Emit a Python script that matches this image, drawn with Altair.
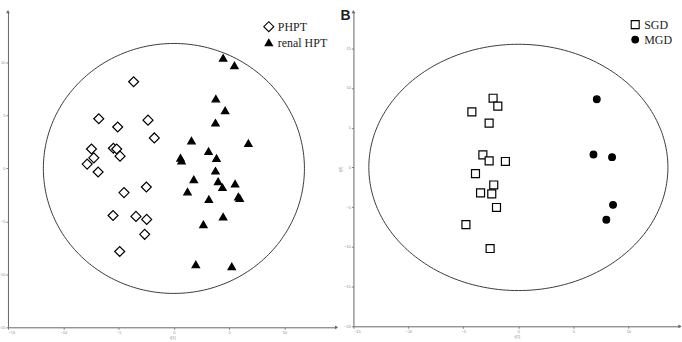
import altair as alt
import numpy as np
import pandas as pd

# ---- Panel A: PHPT vs renal HPT score plot ----
phpt_x = [-3.64, -6.79, -2.34, -5.08, -1.77, -7.45, -5.47, -5.17, -7.24, -4.87,
          -7.84, -6.85, -2.49, -4.51, -5.50, -3.43, -2.46, -2.64, -4.90]
phpt_y = [8.19, 4.69, 4.56, 3.91, 2.88, 1.84, 1.91, 1.84, 1.00, 1.16,
          0.41, -0.34, -1.75, -2.28, -4.44, -4.53, -4.81, -6.22, -7.84]
renal_x = [4.45, 5.47, 3.79, 4.63, 3.76, 1.59, 6.73, 3.13, 0.60, 0.69, 3.85, 3.76,
           1.80, 4.00, 5.53, 4.39, 1.23, 5.83, 5.95, 3.16, 4.45, 2.67, 1.98, 5.23]
renal_y = [10.44, 9.72, 6.59, 5.47, 4.31, 2.63, 2.38, 1.63, 1.00, 0.72, 0.97, -0.22,
           -1.03, -1.22, -1.44, -1.78, -2.19, -2.66, -2.81, -2.91, -4.56, -5.28, -9.06, -9.25]
groups_a = ["PHPT", "renal HPT"]
ellipse_a = (11.8, 11.8)          # Hotelling T2 radii (t1, t2)
xdom_a = [-15, 14.7]
ydom_a = [-15, 14.8]

# ---- Panel B: SGD vs MGD score plot ----
sgd_x = [-2.30, -1.87, -4.23, -2.66, -3.23, -2.66, -1.18, -3.90, -2.24, -3.44,
         -2.42, -1.99, -4.77, -2.57]
sgd_y = [8.71, 7.71, 7.00, 5.58, 1.58, 0.83, 0.75, -0.79, -2.21, -3.21,
         -3.33, -5.04, -7.21, -10.21]
mgd_x = [7.13, 6.83, 8.52, 8.61, 8.00]
mgd_y = [8.58, 1.63, 1.29, -4.71, -6.58]
groups_b = ["SGD", "MGD"]
ellipse_b = (13.6, 15.5)
xdom_b = [-15, 14.7]
ydom_b = [-20, 19.6]

AXIS_GREY = "#666666"
LABEL_GREY = "#8a8a8a"


def scores(xs1, ys1, xs2, ys2, names):
    return pd.DataFrame({
        "t1": list(xs1) + list(xs2),
        "t2": list(ys1) + list(ys2),
        "group": [names[0]] * len(xs1) + [names[1]] * len(xs2),
    })


def ellipse(rx, ry, n=241):
    t = np.linspace(0, 2 * np.pi, n)
    return pd.DataFrame({"t1": rx * np.cos(t), "t2": ry * np.sin(t), "k": np.arange(n)})


def ticks(lo, hi):
    return [float(v) for v in np.arange(lo, hi + 1e-9, 2.5)]


def panel(df, ell, names, shapes, fills, xdom, ydom, sizes,
          w, h, legend_offset, ytitle=None, letter=None):
    xs = alt.Scale(domain=xdom, nice=False, zero=False)
    ys = alt.Scale(domain=ydom, nice=False, zero=False)
    lab = "datum.value % 5 === 0 ? datum.label : ''"
    xax = alt.Axis(values=ticks(-15, 12.5), labelExpr=lab, title="t[1]")
    ytop = 17.5 if ydom[1] > 17.5 else 12.5
    if ytitle:
        yax = alt.Axis(values=ticks(ydom[0], ytop), labelExpr=lab, title=ytitle)
    else:
        yax = alt.Axis(values=ticks(ydom[0], ytop), labelExpr=lab, title=None)

    ring = alt.Chart(ell).mark_line(color="#3a3a3a", strokeWidth=1).encode(
        x=alt.X("t1:Q", scale=xs, axis=xax),
        y=alt.Y("t2:Q", scale=ys, axis=yax),
        order="k:Q",
    )

    legend = alt.Legend(
        title=None, orient="top-right", offset=legend_offset,
        labelFont="Liberation Serif", labelFontSize=12, labelColor="#222222",
        symbolStrokeWidth=1.1, rowPadding=2, padding=0, labelOffset=3,
    )
    pts = alt.Chart(df).mark_point(filled=True, strokeWidth=1.2, opacity=1).encode(
        x=alt.X("t1:Q", scale=xs),
        y=alt.Y("t2:Q", scale=ys),
        shape=alt.Shape("group:N", scale=alt.Scale(domain=names, range=shapes), legend=legend),
        fill=alt.Fill("group:N", scale=alt.Scale(domain=names, range=fills), legend=legend),
        stroke=alt.Stroke("group:N", scale=alt.Scale(domain=names, range=["black", "black"]),
                          legend=legend),
        size=alt.Size("group:N", scale=alt.Scale(domain=names, range=sizes), legend=legend),
    )

    # arrow heads at the ends of both axes
    x_end = pd.DataFrame({"t1": [xdom[1]], "t2": [ydom[0]]})
    y_end = pd.DataFrame({"t1": [xdom[0]], "t2": [ydom[1]]})
    head_x = alt.Chart(x_end).mark_point(shape="triangle-right", filled=True,
                                         color=AXIS_GREY, size=14, opacity=1).encode(
        x=alt.X("t1:Q", scale=xs), y=alt.Y("t2:Q", scale=ys))
    head_y = alt.Chart(y_end).mark_point(shape="triangle-up", filled=True,
                                         color=AXIS_GREY, size=14, opacity=1).encode(
        x=alt.X("t1:Q", scale=xs), y=alt.Y("t2:Q", scale=ys))

    layers = [ring, pts, head_x, head_y]
    if letter:
        tag = alt.Chart(pd.DataFrame({"s": [letter]})).mark_text(
            font="Liberation Sans", fontWeight="bold", fontSize=14, align="left",
            baseline="alphabetic", color="#222222",
        ).encode(text="s:N", x=alt.value(-13), y=alt.value(8))
        layers.append(tag)

    return alt.layer(*layers).properties(width=w, height=h)


df_a = scores(phpt_x, phpt_y, renal_x, renal_y, groups_a)
df_b = scores(sgd_x, sgd_y, mgd_x, mgd_y, groups_b)

left = panel(df_a, ellipse(*ellipse_a), groups_a, ["diamond", "triangle-up"],
             ["white", "black"], xdom_a, ydom_a, [100, 55], 330, 317, 9)
right = panel(df_b, ellipse(*ellipse_b), groups_b, ["square", "circle"],
              ["white", "black"], xdom_b, ydom_b, [64, 45], 328, 316, 7,
              ytitle="t[2]", letter="B")

chart = alt.hconcat(left, right, spacing=0).resolve_scale(
    shape="independent", fill="independent", size="independent", stroke="independent"
).resolve_legend(shape="independent", fill="independent", size="independent",
                 stroke="independent").configure(
    padding={"left": -2, "top": 8, "right": 0, "bottom": 0},
    background="white",
).configure_view(stroke=None).configure_axis(
    grid=False, domainColor=AXIS_GREY, domainWidth=1, tickColor=AXIS_GREY,
    tickSize=2, tickWidth=0.8, labelFontSize=4, labelColor=LABEL_GREY,
    labelPadding=1, titleFontSize=4, titleColor=LABEL_GREY, titleFontWeight="normal",
    titlePadding=1, labelFont="Liberation Sans", titleFont="Liberation Sans",
)

chart.save("out.html", embed_options={"renderer": "svg", "actions": False})
